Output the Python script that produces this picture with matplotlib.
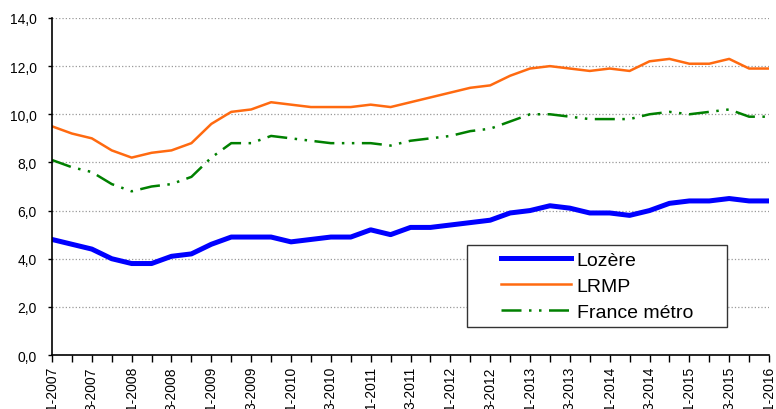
import matplotlib
matplotlib.use("Agg")
import matplotlib.pyplot as plt
from matplotlib.patches import Rectangle

plt.rcParams['font.family'] = ['Liberation Sans', 'DejaVu Sans']

# quarterly periods, 1-2007 .. 1-2016
periods = [f"{q}-{y}" for y in range(2007, 2017) for q in range(1, 5)][:37]

lozere = [4.8, 4.6, 4.4, 4.0, 3.8, 3.8, 4.1, 4.2, 4.6, 4.9, 4.9, 4.9, 4.7, 4.8, 4.9, 4.9,
          5.2, 5.0, 5.3, 5.3, 5.4, 5.5, 5.6, 5.9, 6.0, 6.2, 6.1, 5.9, 5.9, 5.8, 6.0, 6.3,
          6.4, 6.4, 6.5, 6.4, 6.4]
lrmp = [9.5, 9.2, 9.0, 8.5, 8.2, 8.4, 8.5, 8.8, 9.6, 10.1, 10.2, 10.5, 10.4, 10.3, 10.3, 10.3,
        10.4, 10.3, 10.5, 10.7, 10.9, 11.1, 11.2, 11.6, 11.9, 12.0, 11.9, 11.8, 11.9, 11.8, 12.2, 12.3,
        12.1, 12.1, 12.3, 11.9, 11.9]
france = [8.1, 7.8, 7.6, 7.1, 6.8, 7.0, 7.1, 7.4, 8.2, 8.8, 8.8, 9.1, 9.0, 8.9, 8.8, 8.8,
          8.8, 8.7, 8.9, 9.0, 9.1, 9.3, 9.4, 9.7, 10.0, 10.0, 9.9, 9.8, 9.8, 9.8, 10.0, 10.1,
          10.0, 10.1, 10.2, 9.9, 9.9]

y_ticks = [0, 2, 4, 6, 8, 10, 12, 14]
y_labels = ["0,0", "2,0", "4,0", "6,0", "8,0", "10,0", "12,0", "14,0"]

fig = plt.figure(figsize=(7.76, 4.10), dpi=100)
ax = fig.add_axes([0.067, 0.1317, 0.924, 0.822])

x = list(range(len(periods)))

ax.plot(x, lozere, color='#0000FF', lw=3.6, label='Lozère', solid_joinstyle='round')
ax.plot(x, lrmp, color='#FF6A10', lw=1.8, label='LRMP')
ax.plot(x, france, color='#008000', lw=1.8, dashes=(8, 3, 1, 3, 1, 3), label='France métro')

# axes
ax.set_xlim(0, len(periods) - 1)
ax.set_ylim(0, 14)
ax.set_yticks(y_ticks)
ax.set_yticklabels(y_labels, fontsize=10)
ax.set_xticks(x)
ax.set_xticklabels([p if i % 2 == 0 else "" for i, p in enumerate(periods)],
                   rotation=90, fontsize=10)
ax.tick_params(axis='x', length=5, pad=3, width=1)
ax.tick_params(axis='y', length=3, pad=8, width=1)

for s in ['top', 'right']:
    ax.spines[s].set_visible(False)
for s in ['left', 'bottom']:
    ax.spines[s].set_linewidth(1.2)

ax.yaxis.grid(True, linestyle=':', color='#999999', lw=0.9)
ax.set_axisbelow(True)

# legend with a wide frame
box = Rectangle((0.579, 0.083), 0.3625, 0.243, transform=ax.transAxes,
                facecolor='white', edgecolor='#333333', lw=1.0, zorder=4)
ax.add_patch(box)
leg = ax.legend(loc='center', bbox_to_anchor=(0.579 + 0.3625 / 2, 0.083 + 0.243 / 2),
                frameon=False, fontsize=14, handlelength=3.6, handletextpad=0.3,
                labelspacing=0.45, borderpad=0)
leg.set_zorder(5)

fig.savefig("out.png", dpi=100)
